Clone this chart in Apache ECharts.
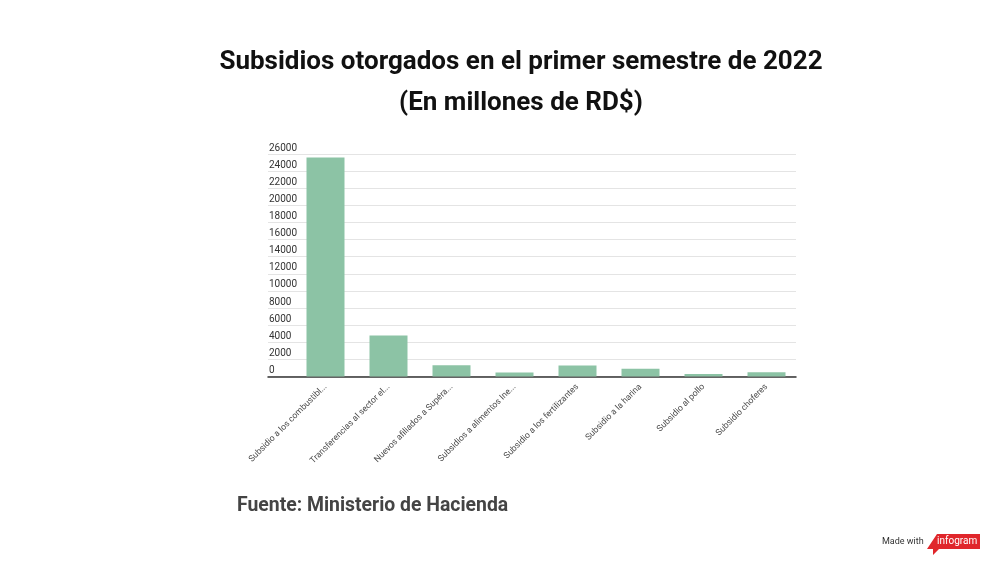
<!DOCTYPE html>
<html>
<head>
<meta charset="utf-8">
<script src="https://cdn.jsdelivr.net/npm/echarts@6/dist/echarts.min.js"></script>
<style>
  html,body{margin:0;padding:0;background:#fff;}
  #main{width:1000px;height:562px;}
</style>
</head>
<body>
<div id="main"></div>
<script>
var categories = [
    "Subsidio a los combustibl...",
    "Transferencias al sector el...",
    "Nuevos afiliados a Supéra...",
    "Subsidios a alimentos Ine...",
    "Subsidio a los fertilizantes",
    "Subsidio a la harina",
    "Subsidio al pollo",
    "Subsidio choferes"
];
var values = [25600, 4800, 1320, 480, 1300, 900, 280, 500];
var yMin = 0, yMax = 26000, yStep = 2000;

var titleText = "Subsidios otorgados en el primer semestre de 2022\n(En millones de RD$)";
var sourceText = "Fuente: Ministerio de Hacienda";

var myChart = echarts.init(document.getElementById('main'));
var plotTop = 154, plotBottom = 562 - 376.5;

var option = {
    backgroundColor: '#fff',
    textStyle: {fontFamily: 'Roboto'},
    title: {
        text: titleText,
        left: 516,
        textAlign: 'center',
        top: 37,
        textStyle: {
            fontFamily: 'Roboto',
            fontSize: 26,
            fontWeight: 'bold',
            color: '#111',
            lineHeight: 41
        }
    },
    grid: [
        {left: 294, right: 202, top: plotTop, bottom: plotBottom},
        {left: 268, right: 204, top: plotTop, bottom: plotBottom}
    ],
    xAxis: [
        {
            gridIndex: 0,
            type: 'category',
            data: categories,
            axisLine: {show: false},
            axisTick: {show: false},
            axisLabel: {
                rotate: 45,
                interval: 0,
                margin: 9,
                fontSize: 8.7,
                color: '#4a4a4a'
            }
        },
        {
            gridIndex: 1,
            type: 'value',
            min: 0,
            max: 1,
            axisLine: {show: true, onZero: false, lineStyle: {color: '#333', width: 1.5}},
            axisTick: {show: false},
            axisLabel: {show: false},
            splitLine: {show: false}
        }
    ],
    yAxis: [
        {
            gridIndex: 0,
            type: 'value',
            min: yMin,
            max: yMax,
            interval: yStep,
            axisLine: {show: false},
            axisTick: {show: false},
            axisLabel: {show: false},
            splitLine: {show: false}
        },
        {
            gridIndex: 1,
            type: 'value',
            min: yMin,
            max: yMax,
            interval: yStep,
            axisLine: {show: false},
            axisTick: {show: false},
            axisLabel: {
                inside: true,
                margin: 1,
                verticalAlign: 'bottom',
                padding: [0, 0, 1, 0],
                fontSize: 10,
                color: '#333',
                formatter: function (v) { return String(v); }
            },
            splitLine: {show: true, lineStyle: {color: '#e4e4e4', width: 1}}
        }
    ],
    series: [
        {
            name: 'Subsidios',
            type: 'bar',
            xAxisIndex: 0,
            yAxisIndex: 0,
            data: values,
            barWidth: 38,
            itemStyle: {color: '#8cc3a5'},
            z: 3
        }
    ],
    graphic: [
        {
            type: 'text',
            left: 237,
            top: 497,
            style: {
                text: sourceText,
                font: 'bold 19.4px Roboto',
                fill: '#444'
            }
        },
        {
            type: 'text',
            left: 882,
            top: 537,
            style: {
                text: 'Made with',
                font: '9px Roboto',
                fill: '#333'
            }
        },
        {
            type: 'polygon',
            shape: {points: [[937, 534], [980, 534], [980, 549], [939, 549], [933, 555], [933, 549], [927, 549]]},
            style: {fill: '#e0262b'}
        },
        {
            type: 'text',
            left: 937,
            top: 536,
            style: {
                text: 'infogram',
                font: '10px Roboto',
                fill: '#fff'
            }
        }
    ]
};
myChart.setOption(option);
</script>
</body>
</html>
